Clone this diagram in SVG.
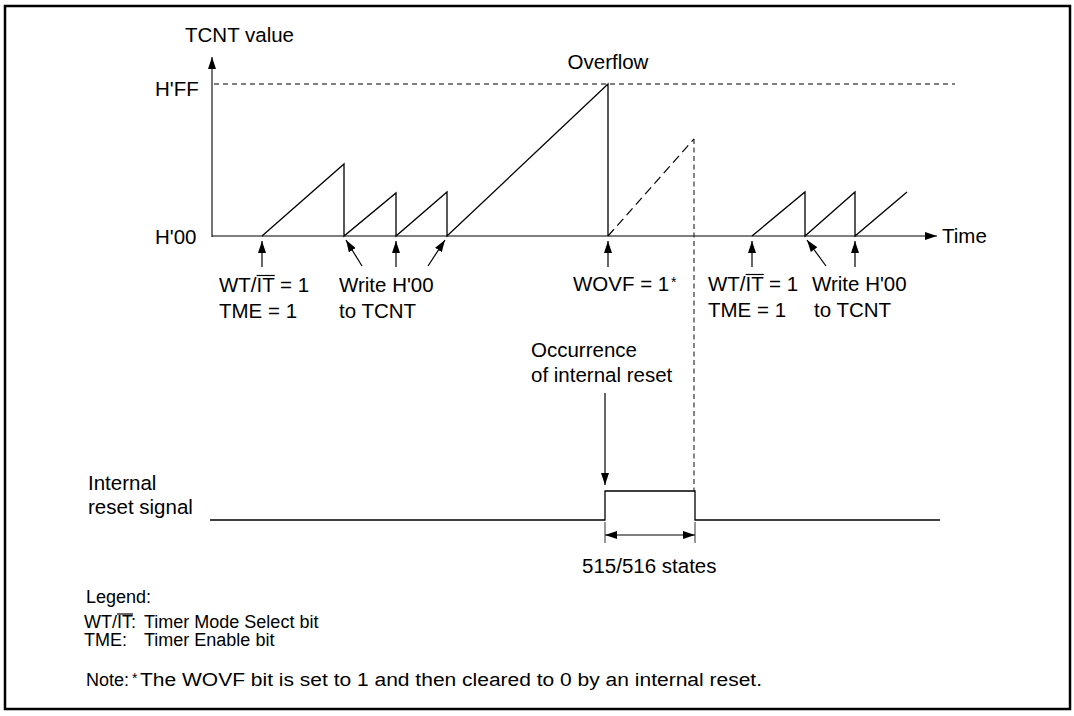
<svg xmlns="http://www.w3.org/2000/svg" width="1074" height="716" viewBox="0 0 1074 716">
<style>
text{font-family:"Liberation Sans",Arial,sans-serif;fill:#000}
.t{font-size:20.5px}
.l{font-size:18px}
.n{font-size:18px}
.s{font-size:14px}
.ln{stroke:#000;stroke-width:1.3;fill:none}
.arr{stroke:#000;stroke-width:1.2;fill:none;marker-end:url(#ah)}
.dash{stroke:#000;stroke-width:1.2;fill:none;stroke-dasharray:5 4}
.ov{stroke:#000;stroke-width:1.2}
</style>
<defs>
<marker id="ah" viewBox="0 0 12 8" refX="12" refY="4" markerWidth="12" markerHeight="8" markerUnits="userSpaceOnUse" orient="auto-start-reverse"><path d="M0,0 L12,4 L0,8 z" fill="#000"/></marker>
</defs>
<rect x="5" y="6" width="1065" height="703" fill="#fff" stroke="#000" stroke-width="2.5"/>

<g id="axes">
<line x1="212" y1="237" x2="212" y2="57" stroke="#666" stroke-width="1.8" marker-end="url(#ah)"/>
<line x1="212" y1="236" x2="937" y2="236" class="arr"/>
<line x1="214" y1="84" x2="955" y2="84" class="dash"/>
<text class="t" x="185" y="42">TCNT value</text>
<text class="t" x="155" y="96">H'FF</text>
<text class="t" x="155" y="244">H'00</text>
<text class="t" x="942" y="243">Time</text>
<text class="t" x="608" y="69" text-anchor="middle">Overflow</text>
</g>

<g id="tcnt-wave">
<polyline class="ln" points="262,236 344,164 344,236 396,193 396,236 447,192 447,236 608,84 608,236"/>
<polyline class="ln" points="752,236 805,192 805,236 855,192 855,236 907,192"/>
<line x1="608" y1="236" x2="694" y2="139" stroke="#000" stroke-width="1.2" stroke-dasharray="9 5"/>
<line x1="694" y1="139" x2="694" y2="491" stroke="#333" stroke-width="1.2" stroke-dasharray="5 3.5"/>
</g>

<g id="connectors">
<line class="arr" x1="262" y1="267" x2="262" y2="241"/>
<line class="arr" x1="362" y1="266" x2="346" y2="240"/>
<line class="arr" x1="396" y1="267" x2="396" y2="241"/>
<line class="arr" x1="428" y1="266" x2="445" y2="240"/>
<line class="arr" x1="608" y1="267" x2="608" y2="241"/>
<line class="arr" x1="752" y1="267" x2="752" y2="241"/>
<line class="arr" x1="826" y1="266" x2="807" y2="240"/>
<line class="arr" x1="855" y1="267" x2="855" y2="241"/>
<line class="arr" x1="605" y1="393" x2="605" y2="485"/>
<line x1="605" y1="535" x2="695" y2="535" stroke="#000" stroke-width="1.2" marker-start="url(#ah)" marker-end="url(#ah)"/>
<line x1="605" y1="522" x2="605" y2="543" stroke="#333" stroke-width="1"/>
<line x1="695" y1="522" x2="695" y2="543" stroke="#333" stroke-width="1"/>
</g>

<g id="label-wt-left">
<text class="t" x="219" y="292">WT/IT = 1</text>
<line class="ov" x1="256.6" y1="275.5" x2="274.8" y2="275.5"/>
<text class="t" x="219" y="318">TME = 1</text>
</g>
<g id="label-write-left">
<text class="t" x="339" y="292">Write H'00</text>
<text class="t" x="339" y="318">to TCNT</text>
</g>
<g id="label-wovf">
<text class="t" x="573" y="291">WOVF = 1</text>
<text class="s" x="671" y="287">*</text>
</g>
<g id="label-wt-right">
<text class="t" x="708" y="291">WT/IT = 1</text>
<line class="ov" x1="745.6" y1="274.5" x2="763.8" y2="274.5"/>
<text class="t" x="708" y="317">TME = 1</text>
</g>
<g id="label-write-right">
<text class="t" x="812" y="291">Write H'00</text>
<text class="t" x="814" y="317">to TCNT</text>
</g>
<g id="label-reset">
<text class="t" x="531" y="357">Occurrence</text>
<text class="t" x="531" y="382">of internal reset</text>
</g>

<g id="reset-signal">
<text class="t" x="88" y="490">Internal</text>
<text class="t" x="88" y="514">reset signal</text>
<polyline class="ln" points="210,520 605,520 605,491 695,491 695,520 940,520"/>
<text class="t" x="582" y="573">515/516 states</text>
</g>

<g id="legend">
<text class="l" x="86" y="603">Legend:</text>
<text class="l" x="84" y="628">WT/IT:</text>
<line class="ov" x1="117" y1="614" x2="133" y2="614"/>
<text class="l" x="144" y="628">Timer Mode Select bit</text>
<text class="l" x="84" y="646">TME:</text>
<text class="l" x="144" y="646">Timer Enable bit</text>
<text class="n" x="86" y="686">Note:</text>
<text class="s" x="132" y="683">*</text>
<text class="n" x="140" y="686" textLength="622" lengthAdjust="spacingAndGlyphs">The WOVF bit is set to 1 and then cleared to 0 by an internal reset.</text>
</g>
</svg>
